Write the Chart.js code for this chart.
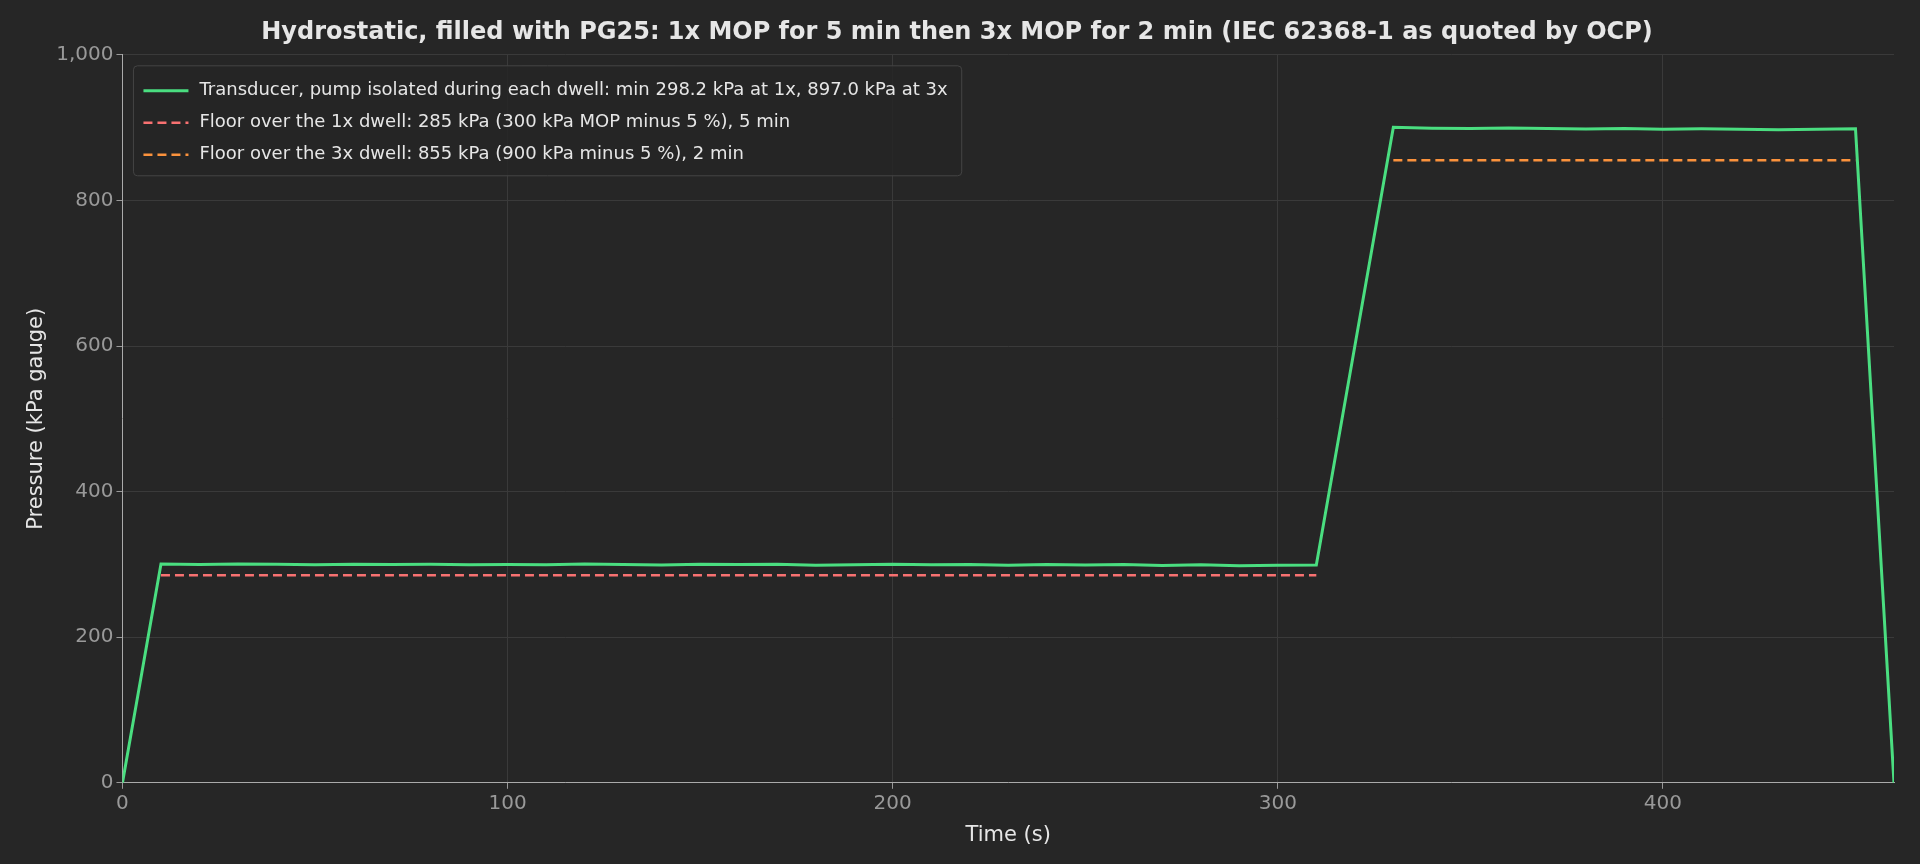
<!DOCTYPE html>
<html lang="en">
<head>
<meta charset="UTF-8">
<script src="https://cdn.jsdelivr.net/npm/chart.js"></script>
<title>Hydrostatic test</title>
<style>
  html, body { margin: 0; background: #262626; overflow: hidden; }
  canvas { display: block; }
</style>
</head>
<body>
<canvas id="chart-hydro" width="1920" height="864"></canvas>
<script>
// transducer trace (time s, pressure kPa)
const traceTime = [0, 10, 20, 30, 40, 50, 60, 70, 80, 90, 100, 110, 120, 130, 140, 150, 160, 170, 180, 190, 200, 210, 220, 230, 240, 250, 260, 270, 280, 290, 300, 310,
                   330, 340, 350, 360, 370, 380, 390, 400, 410, 420, 430, 440, 450, 460];
const tracePressure = [0, 300.4, 299.8, 300.6, 300.1, 299.5, 300.3, 299.9, 300.2, 299.6, 300.0, 299.4, 300.5, 299.8, 299.2, 300.1, 299.7, 300.3, 298.9, 299.6, 300.2, 299.5, 299.9, 298.8, 300.0, 299.3, 299.7, 298.6, 299.4, 298.2, 299.0, 299.3,
                       900.5, 899.2, 898.6, 899.4, 898.8, 898.1, 898.7, 897.6, 898.3, 897.9, 897.0, 897.8, 898.4, 0];
const floor1Time = [10, 310];
const floor1 = [285, 285];
const floor3Time = [330, 450];
const floor3 = [855, 855];
const xTicks = [0, 100, 200, 300, 400];

const labels = [
  'Transducer, pump isolated during each dwell: min 298.2 kPa at 1x, 897.0 kPa at 3x',
  'Floor over the 1x dwell: 285 kPa (300 kPa MOP minus 5 %), 5 min',
  'Floor over the 3x dwell: 855 kPa (900 kPa minus 5 %), 2 min'
];

const zip = (xs, ys) => xs.map((x, i) => ({ x: x, y: ys[i] }));

// legend drawn inside the plot area, top left
const innerLegend = {
  id: 'innerLegend',
  afterDraw(chart) {
    const ctx = chart.ctx, a = chart.chartArea;
    const sets = chart.data.datasets;
    ctx.save();
    ctx.font = '18px "DejaVu Sans"';
    let w = 0;
    sets.forEach(d => { w = Math.max(w, ctx.measureText(d.label).width); });
    const x0 = a.left + 11, y0 = a.top + 11, rowH = 32;
    const bw = w + 80, bh = rowH * sets.length + 14;
    ctx.fillStyle = 'rgba(38,38,38,0.85)';
    ctx.strokeStyle = '#444';
    ctx.lineWidth = 1;
    ctx.beginPath();
    ctx.roundRect(x0, y0, bw, bh, 4);
    ctx.fill(); ctx.stroke();
    sets.forEach((d, i) => {
      const cy = y0 + 14 + rowH * i + 11;
      ctx.strokeStyle = d.borderColor;
      ctx.lineWidth = d.borderWidth;
      ctx.setLineDash(d.borderDash || []);
      ctx.beginPath();
      ctx.moveTo(x0 + 10, cy); ctx.lineTo(x0 + 55, cy);
      ctx.stroke();
      ctx.setLineDash([]);
      ctx.fillStyle = '#e6e6e6';
      ctx.textBaseline = 'middle';
      ctx.fillText(d.label, x0 + 66, cy);
    });
    ctx.restore();
  }
};

const ctxHydro = document.getElementById('chart-hydro');

new Chart(ctxHydro, {
  type: 'line',
  data: {
    datasets: [{
      label: labels[0],
      data: zip(traceTime, tracePressure),
      borderColor: '#4ade80',
      borderWidth: 3,
      pointRadius: 0,
      tension: 0
    }, {
      label: labels[1],
      data: zip(floor1Time, floor1),
      borderColor: '#f87171',
      borderWidth: 2.5,
      borderDash: [9, 5],
      pointRadius: 0
    }, {
      label: labels[2],
      data: zip(floor3Time, floor3),
      borderColor: '#fb923c',
      borderWidth: 2.5,
      borderDash: [9, 5],
      pointRadius: 0
    }]
  },
  plugins: [innerLegend],
  options: {
    responsive: false,
    animation: false,
    devicePixelRatio: 1,
    layout: { padding: { left: 20, right: 26, top: 8, bottom: 12 } },
    plugins: {
      legend: { display: false },
      tooltip: { enabled: false },
      title: {
        display: true,
        text: 'Hydrostatic, filled with PG25: 1x MOP for 5 min then 3x MOP for 2 min (IEC 62368-1 as quoted by OCP)',
        color: '#e6e6e6',
        font: { family: 'DejaVu Sans', size: 24, weight: 'bold' },
        padding: { top: 10, bottom: 8 }
      }
    },
    scales: {
      x: {
        type: 'linear',
        min: 0, max: 460,
        afterBuildTicks: s => { s.ticks = xTicks.map(v => ({ value: v })); },
        grid: { color: '#3a3a3a', tickColor: '#999', tickLength: 6 },
        border: { color: '#aaa' },
        ticks: { color: '#999', font: { family: 'DejaVu Sans', size: 20 } },
        title: { display: true, text: 'Time (s)', color: '#e6e6e6', font: { family: 'DejaVu Sans', size: 21 } }
      },
      y: {
        min: 0, max: 1000,
        ticks: { stepSize: 200, color: '#999', font: { family: 'DejaVu Sans', size: 20 } },
        grid: { color: '#3a3a3a', tickColor: '#999', tickLength: 6 },
        border: { color: '#aaa' },
        title: { display: true, text: 'Pressure (kPa gauge)', color: '#e6e6e6', font: { family: 'DejaVu Sans', size: 21 } }
      }
    }
  }
});
</script>
</body>
</html>
